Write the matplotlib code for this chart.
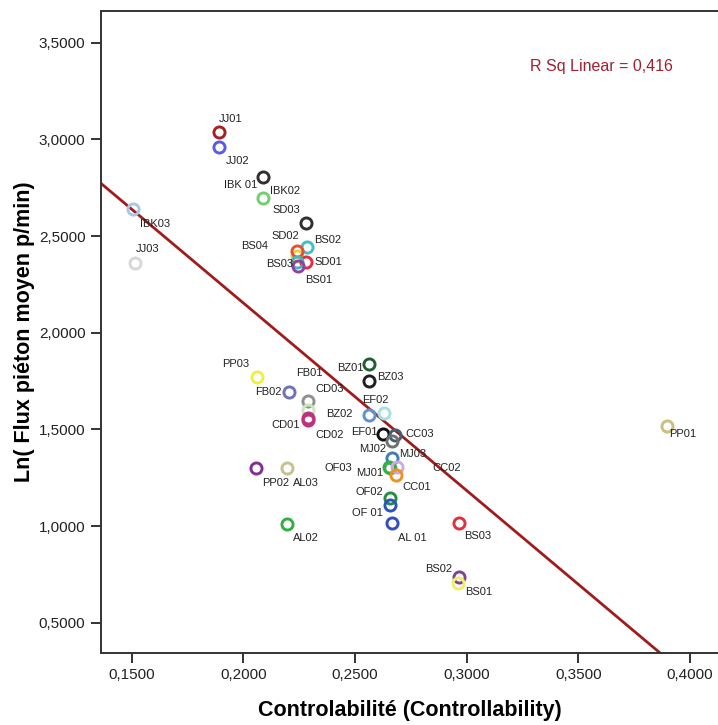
import matplotlib
matplotlib.use("Agg")
import matplotlib.pyplot as plt
import numpy as np
from matplotlib.ticker import FuncFormatter, MultipleLocator

plt.rcParams["font.family"] = ["Liberation Sans", "DejaVu Sans"]

# Sites: name, controllability, ln(pedestrian flow), colour
names = ["JJ01", "JJ02", "IBK 01", "IBK02", "SD03", "SD02", "BS02", "BS04", "SD01",
         "BS03", "BS01", "IBK03", "JJ03", "PP03", "FB01", "FB02", "CD03", "CD01",
         "CD02", "BZ01", "BZ03", "BZ02", "EF02", "EF01", "CC03", "MJ02", "MJ03",
         "OF03", "MJ01", "CC02", "CC01", "OF02", "OF 01", "AL 01", "BS03", "PP02",
         "AL03", "AL02", "BS02", "BS01", "PP01"]
controlability = [0.1891, 0.1891, 0.2089, 0.2089, 0.2280, 0.2242, 0.2284, 0.2239, 0.2280,
                  0.2242, 0.2246, 0.1507, 0.1515, 0.2060, 0.2288, 0.2204, 0.2288, 0.2288,
                  0.2288, 0.2563, 0.2563, 0.2563, 0.2631, 0.2627, 0.2679, 0.2667, 0.2667,
                  0.2657, 0.2654, 0.2687, 0.2684, 0.2657, 0.2657, 0.2667, 0.2966, 0.2057,
                  0.2194, 0.2194, 0.2966, 0.2963, 0.3896]
ln_flux = [3.040, 2.959, 2.807, 2.698, 2.566, 2.395, 2.442, 2.424, 2.367,
           2.367, 2.347, 2.638, 2.359, 1.772, 1.647, 1.692, 1.600, 1.557,
           1.550, 1.838, 1.750, 1.574, 1.583, 1.474, 1.471, 1.441, 1.350,
           1.300, 1.307, 1.307, 1.264, 1.143, 1.109, 1.014, 1.017, 1.299,
           1.299, 1.010, 0.738, 0.704, 1.517]
colors = ["#a82020", "#5a5ae8", "#303030", "#70d070", "#303030", "#e8d040", "#40c0c8",
          "#e85030", "#e03040", "#40b8c0", "#9040a0", "#a8c8e8", "#d8d8d8", "#f0f040",
          "#909090", "#7070c0", "#c8e8b8", "#c03080", "#c03080", "#206030", "#202020",
          "#6090e0", "#a8e0e0", "#101010", "#406070", "#707070", "#4080b0", "#60b070",
          "#30b040", "#d0a8e0", "#f09020", "#209040", "#3050c0", "#3050c0", "#e03040",
          "#803090", "#c8c090", "#30b040", "#8040a0", "#f0f060", "#c8c080"]
r_sq = 0.416

# label offsets from the point, in pixels (right, down)
label_offsets = [(12, -13), (19, 14), (-23, 8), (22, -7), (-20, -13), (-12, -20), (21, -7),
                 (-42, -5), (22, 0), (-18, 2), (20, 14), (22, 15), (13, -14), (-21, -13),
                 (2, -28), (-21, 0), (22, -21), (-22, 7), (22, 15), (-19, 4), (21, -4),
                 (-30, -1), (-9, -13), (-19, -2), (25, -1), (-20, 8), (20, -4), (-52, 0),
                 (-20, 6), (50, 1), (21, 12), (-21, -6), (-23, 8), (20, 15), (19, 13),
                 (20, 15), (19, 15), (19, 14), (-20, -8), (20, 9), (16, 8)]

fig = plt.figure(figsize=(7.18, 7.25), dpi=100)
ax = fig.add_axes([0.1403, 0.0993, 0.8598, 0.8859])

for x, y, c, name, (dx, dy) in zip(controlability, ln_flux, colors, names, label_offsets):
    ax.plot(x, y, "o", ms=8, mfc="none", mec=c, mew=2.1, zorder=3)
    ax.annotate(name, (x, y), xytext=(dx, -dy), textcoords="offset pixels",
                ha="center", va="center", fontsize=8, color="#222222", zorder=4)

# linear fit
slope, intercept = np.polyfit(controlability, ln_flux, 1)
xs = np.array([0.13, 0.42])
ax.plot(xs, intercept + slope * xs, color="#a01c1c", lw=2, zorder=2)

ax.text(0.8105, 0.9124, "R Sq Linear = " + f"{r_sq:.3f}".replace(".", ","),
        transform=ax.transAxes, ha="center", va="center", fontsize=11.5, color="#a02030")

ax.set_xlim(0.13612, 0.41254)
ax.set_ylim(0.3432, 3.6655)
ax.xaxis.set_major_locator(MultipleLocator(0.05))
ax.yaxis.set_major_locator(MultipleLocator(0.5))
fmt = FuncFormatter(lambda v, p: f"{v:.4f}".replace(".", ","))
ax.xaxis.set_major_formatter(fmt)
ax.yaxis.set_major_formatter(fmt)
ax.tick_params(direction="out", length=7, width=1.4, color="#333333",
               labelsize=11, labelcolor="#222222", pad=4)
for s in ax.spines.values():
    s.set_color("#333333")
    s.set_linewidth(1.4)
ax.spines["right"].set_visible(False)

ax.set_xlabel("Controlabilité (Controllability)", fontsize=15.5, fontweight="bold", labelpad=13)
ax.set_ylabel("Ln( Flux piéton moyen p/min)", fontsize=15.5, fontweight="bold", labelpad=3)

fig.savefig("out.png", dpi=100)
